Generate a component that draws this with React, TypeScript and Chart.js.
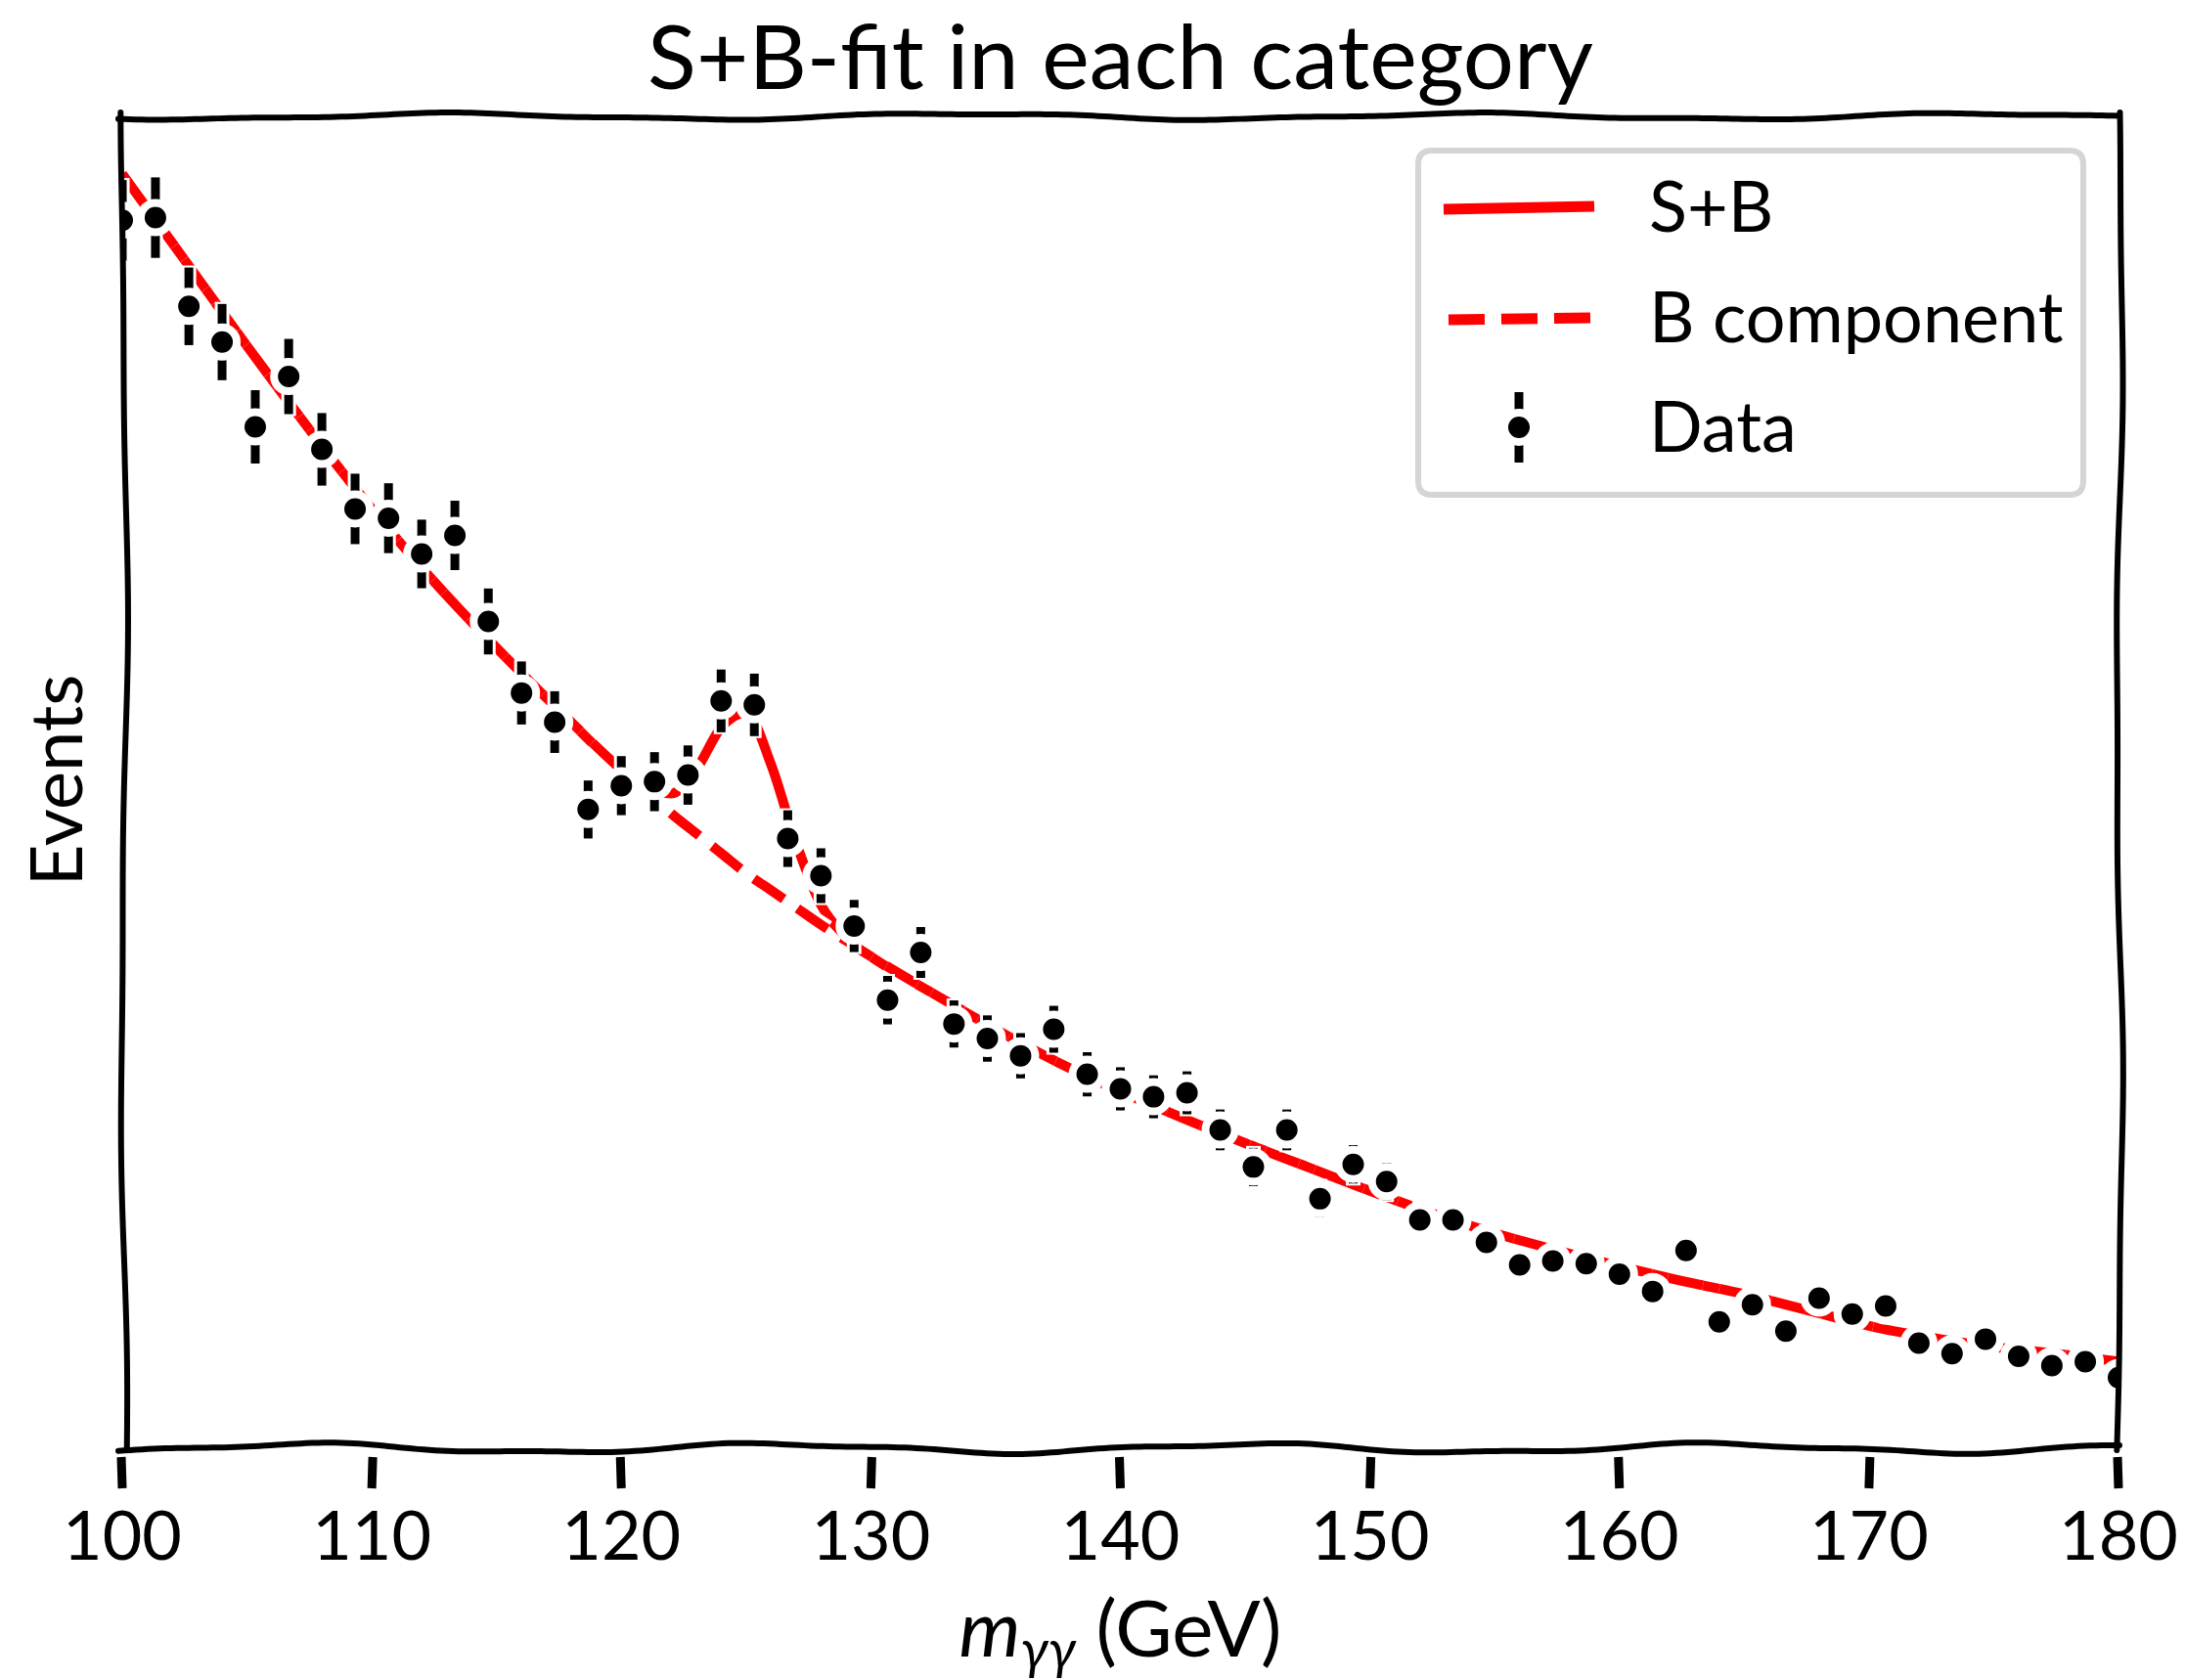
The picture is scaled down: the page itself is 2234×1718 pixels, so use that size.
import React, { useEffect, useRef } from "react";
import { Chart, registerables } from "chart.js";

Chart.register(...registerables);

const FONT = "Lato, 'Open Sans', sans-serif";

// Diphoton mass bins (GeV)
const massBins = [
  100, 101.33, 102.67, 104, 105.33, 106.67, 108, 109.33, 110.67, 112, 113.33,
  114.67, 116, 117.33, 118.67, 120, 121.33, 122.67, 124, 125.33, 126.67, 128,
  129.33, 130.67, 132, 133.33, 134.67, 136, 137.33, 138.67, 140, 141.33, 142.67,
  144, 145.33, 146.67, 148, 149.33, 150.67, 152, 153.33, 154.67, 156, 157.33,
  158.67, 160, 161.33, 162.67, 164, 165.33, 166.67, 168, 169.33, 170.67, 172,
  173.33, 174.67, 176, 177.33, 178.67, 180,
];

// Observed events per bin
const dataEvents = [
  923, 925, 858, 831, 767, 805, 750, 705, 698, 671, 685, 620, 566, 544, 478,
  496, 499, 504, 560, 557, 456, 428, 390, 334, 370, 316, 305, 292, 312, 278,
  267, 261, 264, 236, 208, 236, 184, 210, 197, 168, 168, 151, 134, 137, 135,
  127, 114, 145, 91, 104, 84, 109, 97, 103, 75, 67, 78, 65, 58, 61, 49,
];

// Statistical uncertainty per bin
const dataErrors = [
  30.4, 30.4, 29.3, 28.8, 27.7, 28.4, 27.4, 26.6, 26.4, 25.9, 26.2, 24.9, 23.8,
  23.3, 21.9, 22.3, 22.3, 22.4, 23.7, 23.6, 21.4, 20.7, 19.7, 18.3, 19.2, 17.8,
  17.5, 17.1, 17.7, 16.7, 16.3, 16.2, 16.2, 15.4, 14.4, 15.4, 13.6, 14.5, 14.0,
  13.0, 13.0, 12.3, 11.6, 11.7, 11.6, 11.3, 10.7, 12.0, 9.5, 10.2, 9.2, 10.4,
  9.8, 10.1, 8.7, 8.2, 8.8, 8.1, 7.6, 7.8, 7.0,
];

// Fit curves
const curveMass = [
  100, 102.5, 105, 107.5, 110, 112.5, 115, 117.5, 120, 121, 122, 123, 124, 125,
  126, 127, 128, 129, 130, 132.5, 135, 137.5, 140, 142.5, 145, 147.5, 150,
  152.5, 155, 157.5, 160, 162.5, 165, 167.5, 170, 172.5, 175, 177.5, 180,
];
const bkgCurve = [
  958, 893, 828, 765, 705, 650, 600, 553, 508, 492, 475, 460, 445, 430, 417,
  404, 391, 379, 367, 339, 312, 287, 265, 245, 226, 208, 190, 173, 158, 145,
  133, 122, 112, 100, 88, 79, 72, 67, 61,
];
const sbCurve = [
  958, 893, 828, 765, 705, 650, 600, 553, 508, 495, 490, 508, 540, 551, 512,
  453, 406, 382, 367, 339, 312, 287, 265, 245, 226, 208, 190, 173, 158, 145,
  133, 122, 112, 100, 88, 79, 72, 67, 61,
];

const xTicks = [100, 110, 120, 130, 140, 150, 160, 170, 180];

const TITLE = "S+B-fit in each category";
const LEGEND_LABELS = ["S+B", "B component", "Data"];
const Y_LABEL = "Events";

const RED = "#ff0000";
const DASH = [37, 17];

function wiggly(
  ctx: CanvasRenderingContext2D,
  x0: number,
  y0: number,
  x1: number,
  y1: number,
  amp: number,
  wl: number,
  ph: number
) {
  const dx = x1 - x0;
  const dy = y1 - y0;
  const len = Math.hypot(dx, dy);
  const nx = -dy / len;
  const ny = dx / len;
  ctx.beginPath();
  for (let s = 0; s <= len; s += 6) {
    const t = s / len;
    const off =
      amp *
      (0.75 * Math.sin((2 * Math.PI * s) / wl + ph) +
        0.25 * Math.sin((2 * Math.PI * s) / (wl * 0.41) + ph * 1.7));
    const px = x0 + dx * t + nx * off;
    const py = y0 + dy * t + ny * off;
    if (s === 0) ctx.moveTo(px, py);
    else ctx.lineTo(px, py);
  }
  ctx.stroke();
}

function drawMarker(ctx: CanvasRenderingContext2D, x: number, y: number) {
  ctx.beginPath();
  ctx.arc(x, y, 19, 0, Math.PI * 2);
  ctx.fillStyle = "#ffffff";
  ctx.fill();
  ctx.beginPath();
  ctx.arc(x, y, 11, 0, Math.PI * 2);
  ctx.fillStyle = "#000000";
  ctx.fill();
}

const errorBarPlugin = {
  id: "errorBars",
  beforeDatasetDraw(chart: any, args: any) {
    if (args.index !== 0) return;
    const { ctx, chartArea, scales } = chart;
    const xs = scales.x;
    const ys = scales.y;
    ctx.save();
    ctx.beginPath();
    ctx.rect(chartArea.left, chartArea.top, chartArea.right - chartArea.left, chartArea.bottom - chartArea.top);
    ctx.clip();
    ctx.lineCap = "butt";
    for (let pass = 0; pass < 2; pass++) {
      ctx.strokeStyle = pass === 0 ? "#ffffff" : "#000000";
      ctx.lineWidth = pass === 0 ? 15 : 9;
      for (let i = 0; i < massBins.length; i++) {
        const px = xs.getPixelForValue(massBins[i]);
        const y1 = ys.getPixelForValue(dataEvents[i] - dataErrors[i]);
        const y2 = ys.getPixelForValue(dataEvents[i] + dataErrors[i]);
        ctx.beginPath();
        ctx.moveTo(px, y1 + (pass === 0 ? 2 : 0));
        ctx.lineTo(px, y2 - (pass === 0 ? 2 : 0));
        ctx.stroke();
      }
    }
    ctx.restore();
  },
};

const decorPlugin = {
  id: "decor",
  afterDatasetsDraw(chart: any) {
    const { ctx, chartArea, scales } = chart;
    const { left, right, top, bottom } = chartArea;
    ctx.save();
    ctx.strokeStyle = "#000000";
    ctx.lineWidth = 6;
    ctx.lineCap = "round";
    // spines
    wiggly(ctx, left - 4, top - 2, right + 4, top - 2, 4, 520, 0.6);
    wiggly(ctx, left - 4, bottom + 6, right + 4, bottom + 6, 6, 480, 2.2);
    wiggly(ctx, left + 2, top - 6, left + 2, bottom + 8, 4, 900, 1.2);
    wiggly(ctx, right + 1, top - 6, right + 1, bottom + 8, 4, 800, 3.0);
    // ticks
    ctx.lineCap = "butt";
    ctx.lineWidth = 9;
    const xs = scales.x;
    xTicks.forEach((v, k) => {
      const px = xs.getPixelForValue(v);
      ctx.beginPath();
      ctx.moveTo(px + (k % 2 ? 1 : -1), bottom + 15);
      ctx.lineTo(px, bottom + 47);
      ctx.stroke();
    });
    ctx.restore();
  },
  afterDraw(chart: any) {
    const { ctx, chartArea } = chart;
    const cx = (chartArea.left + chartArea.right) / 2;
    ctx.save();
    // x-axis label: m_{γγ} (GeV)
    const bigFont = `italic 80px ${FONT}`;
    const subFont = `italic 56px ${FONT}`;
    const regFont = `80px ${FONT}`;
    ctx.font = bigFont;
    const wM = ctx.measureText("m").width;
    ctx.font = subFont;
    const wSub = ctx.measureText("γγ").width;
    ctx.font = regFont;
    const wRest = ctx.measureText(" (GeV)").width;
    const total = wM + wSub + wRest;
    let x = cx - total / 2;
    const base = 1694;
    ctx.fillStyle = "#000000";
    ctx.textBaseline = "alphabetic";
    ctx.textAlign = "left";
    ctx.font = bigFont;
    ctx.fillText("m", x, base);
    x += wM;
    ctx.font = subFont;
    ctx.fillText("γγ", x, base + 12);
    x += wSub;
    ctx.font = regFont;
    ctx.fillText(" (GeV)", x, base);

    // legend
    const bx = 1450, by = 154, bw = 680, bh = 352, r = 14;
    ctx.beginPath();
    ctx.moveTo(bx + r, by);
    ctx.lineTo(bx + bw - r, by);
    ctx.quadraticCurveTo(bx + bw, by, bx + bw, by + r);
    ctx.lineTo(bx + bw, by + bh - r);
    ctx.quadraticCurveTo(bx + bw, by + bh, bx + bw - r, by + bh);
    ctx.lineTo(bx + r, by + bh);
    ctx.quadraticCurveTo(bx, by + bh, bx, by + bh - r);
    ctx.lineTo(bx, by + r);
    ctx.quadraticCurveTo(bx, by, bx + r, by);
    ctx.closePath();
    ctx.fillStyle = "rgba(255,255,255,0.85)";
    ctx.fill();
    ctx.strokeStyle = "#d5d5d5";
    ctx.lineWidth = 6;
    ctx.stroke();

    const hx0 = 1476, hx1 = 1630;
    const rows = [212, 325, 437];
    ctx.lineCap = "butt";
    ctx.strokeStyle = RED;
    ctx.lineWidth = 11;
    ctx.beginPath();
    ctx.moveTo(hx0, rows[0] + 2);
    ctx.lineTo(hx1, rows[0] - 1);
    ctx.stroke();
    ctx.setLineDash(DASH);
    ctx.beginPath();
    ctx.moveTo(hx0 + 5, rows[1] + 2);
    ctx.lineTo(hx1, rows[1]);
    ctx.stroke();
    ctx.setLineDash([]);
    const mx = (hx0 + hx1) / 2;
    ctx.strokeStyle = "#000000";
    ctx.lineWidth = 9;
    ctx.beginPath();
    ctx.moveTo(mx, rows[2] - 36);
    ctx.lineTo(mx, rows[2] + 36);
    ctx.stroke();
    drawMarker(ctx, mx, rows[2]);

    ctx.fillStyle = "#000000";
    ctx.font = `72px ${FONT}`;
    ctx.textBaseline = "middle";
    LEGEND_LABELS.forEach((t, i) => ctx.fillText(t, 1686, rows[i] + 2));
    ctx.restore();
  },
};

export default function App() {
  const ref = useRef<HTMLCanvasElement | null>(null);

  useEffect(() => {
    if (!ref.current) return;
    const dataPts = massBins.map((m, i) => ({ x: m, y: dataEvents[i] }));
    const bPts = curveMass.map((m, i) => ({ x: m, y: bkgCurve[i] }));
    const sbPts = curveMass.map((m, i) => ({ x: m, y: sbCurve[i] }));

    const chart = new Chart(ref.current, {
      type: "line",
      data: {
        datasets: [
          {
            label: "Data",
            data: dataPts,
            showLine: false,
            pointRadius: 15,
            pointBorderWidth: 8,
            pointBackgroundColor: "#000000",
            pointBorderColor: "#ffffff",
            order: 0,
          },
          {
            label: "B component",
            data: bPts,
            borderColor: RED,
            borderWidth: 10,
            borderDash: DASH,
            pointRadius: 0,
            cubicInterpolationMode: "monotone",
            order: 1,
          },
          {
            label: "B outline",
            data: bPts,
            borderColor: "#ffffff",
            borderWidth: 18,
            borderDash: DASH,
            pointRadius: 0,
            cubicInterpolationMode: "monotone",
            order: 2,
          },
          {
            label: "S+B",
            data: sbPts,
            borderColor: RED,
            borderWidth: 10,
            pointRadius: 0,
            cubicInterpolationMode: "monotone",
            order: 3,
          },
          {
            label: "S+B outline",
            data: sbPts,
            borderColor: "#ffffff",
            borderWidth: 18,
            pointRadius: 0,
            cubicInterpolationMode: "monotone",
            order: 4,
          },
        ],
      },
      options: {
        responsive: false,
        maintainAspectRatio: false,
        devicePixelRatio: 1,
        animation: false,
        layout: { padding: { left: 0, right: 68, top: 0, bottom: 0 } },
        plugins: {
          legend: { display: false },
          tooltip: { enabled: false },
          title: {
            display: true,
            fullSize: false,
            text: TITLE,
            color: "#000000",
            font: { family: FONT, size: 92, weight: "normal", lineHeight: 1.2 },
            padding: { top: 6, bottom: 4.6 },
          },
        },
        scales: {
          x: {
            type: "linear",
            min: 100,
            max: 180,
            afterBuildTicks: (scale: any) => {
              scale.ticks = xTicks.map((v) => ({ value: v }));
            },
            ticks: {
              color: "#000000",
              font: { family: FONT, size: 70 },
              padding: 55,
              maxRotation: 0,
              autoSkip: false,
            },
            grid: { display: false, drawTicks: false },
            border: { display: false },
            afterFit: (scale: any) => {
              scale.height = 243;
              scale.paddingLeft = 0;
              scale.paddingRight = 0;
            },
          },
          y: {
            type: "linear",
            min: 0,
            max: 1000,
            ticks: { display: false },
            grid: { display: false, drawTicks: false },
            border: { display: false },
            title: {
              display: true,
              text: Y_LABEL,
              color: "#000000",
              font: { family: FONT, size: 74 },
              padding: { top: 16, bottom: 0 },
            },
            afterFit: (scale: any) => {
              scale.width = 125;
            },
          },
        },
      },
      plugins: [errorBarPlugin, decorPlugin],
    });
    return () => chart.destroy();
  }, []);

  return (
    <div style={{ position: "absolute", left: 0, top: 0, width: 2234, height: 1718, background: "#ffffff" }}>
      <canvas ref={ref} width={2234} height={1718} style={{ width: 2234, height: 1718, display: "block" }} />
    </div>
  );
}
